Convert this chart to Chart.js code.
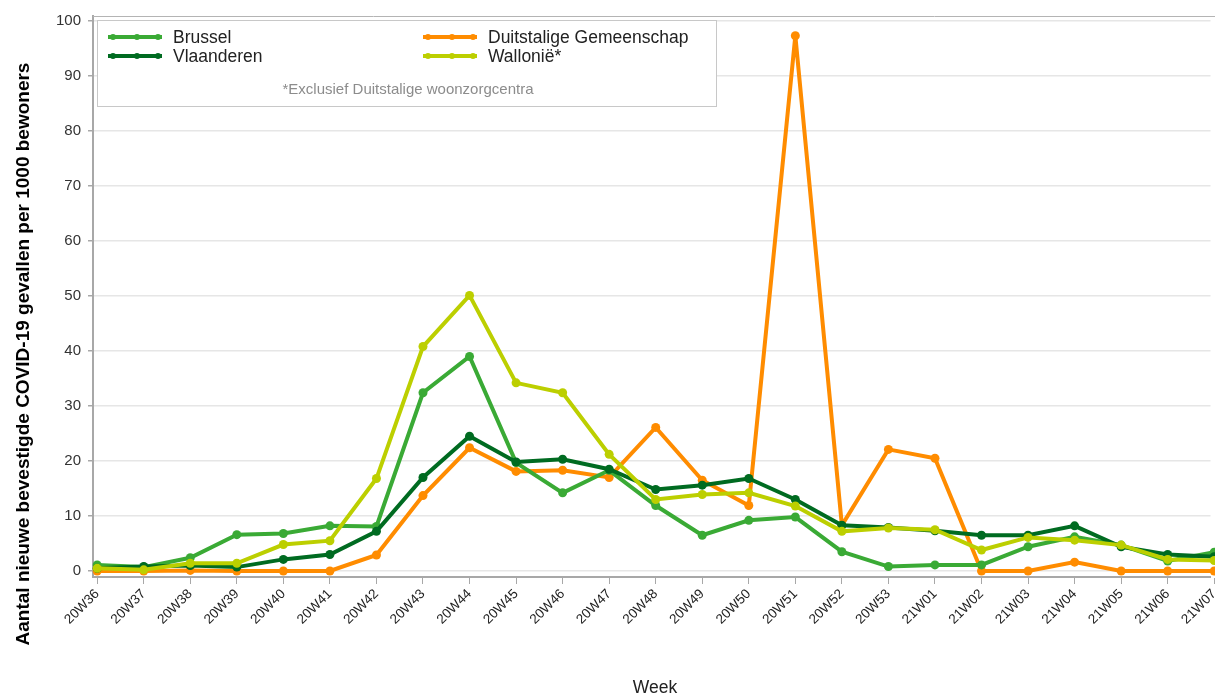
<!DOCTYPE html>
<html>
<head>
<meta charset="utf-8">
<script src="https://cdn.jsdelivr.net/npm/chart.js@4"></script>
<style>
  html, body { margin: 0; padding: 0; background: #fff; overflow: hidden; }
  #wrap { width: 1215px; height: 696px; position: relative; }
</style>
</head>
<body>
<div id="wrap"><canvas id="chart"></canvas></div>
<script>
// weeks on the x axis
const weeks = ['20W36','20W37','20W38','20W39','20W40','20W41','20W42','20W43','20W44','20W45',
  '20W46','20W47','20W48','20W49','20W50','20W51','20W52','20W53','21W01','21W02',
  '21W03','21W04','21W05','21W06','21W07'];

// new confirmed cases per 1000 residents
const brussel     = [1.1, 0.7, 2.4, 6.6, 6.8, 8.2, 8.1, 32.4, 39.0, 19.7, 14.2, 18.3, 11.9, 6.5, 9.2, 9.8, 3.5, 0.8, 1.1, 1.1, 4.4, 6.2, 4.7, 1.8, 3.4];
const vlaanderen  = [0.5, 0.8, 1.0, 0.7, 2.1, 3.0, 7.2, 17.0, 24.5, 19.8, 20.3, 18.5, 14.8, 15.6, 16.8, 13.0, 8.3, 7.9, 7.3, 6.5, 6.5, 8.2, 4.4, 3.0, 2.6];
const duitstalig  = [0, 0, 0.1, 0, 0, 0, 2.9, 13.7, 22.4, 18.1, 18.3, 17.0, 26.1, 16.5, 11.9, 97.3, 8.3, 22.1, 20.5, 0, 0, 1.6, 0, 0, 0];
const wallonie    = [0.5, 0.2, 1.4, 1.4, 4.8, 5.5, 16.8, 40.8, 50.1, 34.2, 32.4, 21.2, 13.0, 13.9, 14.2, 11.8, 7.2, 7.8, 7.5, 3.8, 6.1, 5.6, 4.7, 2.1, 1.9];

const yTicks = [0, 10, 20, 30, 40, 50, 60, 70, 80, 90, 100];

const FONT = "'Liberation Sans', Arial, sans-serif";

function series(label, values, color, order) {
    return {
        label: label,
        data: values.map((v, i) => ({ x: i, y: v })),
        borderColor: color,
        backgroundColor: color,
        pointBackgroundColor: color,
        pointBorderWidth: 0,
        pointRadius: 4.5,
        borderWidth: 4,
        tension: 0,
        clip: false,
        order: order
    };
}

// legend inside the plot, titles, top frame line
const decor = {
    id: 'decor',
    afterDraw(chart) {
        const ctx = chart.ctx;
        const area = chart.chartArea;
        ctx.save();

        // top frame
        ctx.strokeStyle = '#b4b4b4';
        ctx.lineWidth = 1;
        ctx.beginPath();
        ctx.moveTo(area.left, area.top + 0.5);
        ctx.lineTo(chart.width, area.top + 0.5);
        ctx.stroke();

        // legend box
        ctx.fillStyle = '#fff';
        ctx.fillRect(97, 20, 619, 86);
        ctx.strokeStyle = '#c8c8c8';
        ctx.strokeRect(97.5, 20.5, 619, 86);

        const ds = chart.data.datasets;
        const slots = [
            { i: 0, x: 108, y: 37 },
            { i: 2, x: 423, y: 37 },
            { i: 1, x: 108, y: 56 },
            { i: 3, x: 423, y: 56 }
        ];
        ctx.font = '17.5px ' + FONT;
        ctx.textBaseline = 'middle';
        ctx.textAlign = 'left';
        slots.forEach(s => {
            const c = ds[s.i].borderColor;
            ctx.strokeStyle = c;
            ctx.fillStyle = c;
            ctx.lineWidth = 4;
            ctx.beginPath();
            ctx.moveTo(s.x, s.y);
            ctx.lineTo(s.x + 54, s.y);
            ctx.stroke();
            [5, 29, 50].forEach(dx => {
                ctx.beginPath();
                ctx.arc(s.x + dx, s.y, 3, 0, Math.PI * 2);
                ctx.fill();
            });
            ctx.fillStyle = '#222';
            ctx.fillText(ds[s.i].label, s.x + 65, s.y + 1);
        });
        ctx.fillStyle = '#8c8c8c';
        ctx.font = '15px ' + FONT;
        ctx.textAlign = 'center';
        ctx.fillText('*Exclusief Duitstalige woonzorgcentra', 408, 90);

        // axis titles
        ctx.fillStyle = '#000';
        ctx.font = 'bold 19px ' + FONT;
        ctx.textBaseline = 'alphabetic';
        ctx.translate(28.5, 354);
        ctx.rotate(-Math.PI / 2);
        ctx.fillText('Aantal nieuwe bevestigde COVID-19 gevallen per 1000 bewoners', 0, 0);
        ctx.restore();

        ctx.save();
        ctx.fillStyle = '#222';
        ctx.font = '17.5px ' + FONT;
        ctx.textAlign = 'center';
        ctx.textBaseline = 'alphabetic';
        ctx.fillText('Week', 655, 693);
        ctx.restore();
    }
};

new Chart(document.getElementById('chart'), {
    type: 'line',
    data: {
        datasets: [
            series('Brussel', brussel, '#3aaa35', 2),
            series('Vlaanderen', vlaanderen, '#006b21', 1),
            series('Duitstalige Gemeenschap', duitstalig, '#ff8c00', 3),
            series('Walloni\u00eb*', wallonie, '#bccf00', 0)
        ]
    },
    options: {
        responsive: true,
        maintainAspectRatio: false,
        animation: false,
        events: [],
        layout: { padding: { left: 0, right: 0, top: 15, bottom: 0 } },
        plugins: {
            legend: { display: false },
            tooltip: { enabled: false }
        },
        scales: {
            x: {
                type: 'linear',
                min: -0.09,
                max: 23.92,
                afterBuildTicks(scale) {
                    scale.ticks = weeks.map((w, i) => ({ value: i }));
                },
                afterFit(scale) {
                    scale.height = 119;
                    scale.paddingLeft = 0;
                    scale.paddingRight = 0;
                },
                grid: { drawOnChartArea: false, tickLength: 7, tickColor: '#a8a8a8' },
                border: { color: '#a8a8a8', width: 2 },
                ticks: {
                    autoSkip: false,
                    maxRotation: 45,
                    minRotation: 45,
                    padding: 2,
                    color: '#222',
                    font: { family: FONT, size: 13.5 },
                    callback: v => weeks[v]
                }
            },
            y: {
                min: -1.1,
                max: 100.9,
                afterBuildTicks(scale) {
                    scale.ticks = yTicks.map(v => ({ value: v }));
                },
                afterFit(scale) { scale.width = 93; },
                grid: { color: '#e6e6e6', lineWidth: 1.5, tickLength: 5, tickColor: '#a8a8a8' },
                border: { color: '#a8a8a8', width: 2 },
                ticks: {
                    padding: 7,
                    color: '#333',
                    font: { family: FONT, size: 15 }
                }
            }
        }
    },
    plugins: [decor]
});
</script>
</body>
</html>
